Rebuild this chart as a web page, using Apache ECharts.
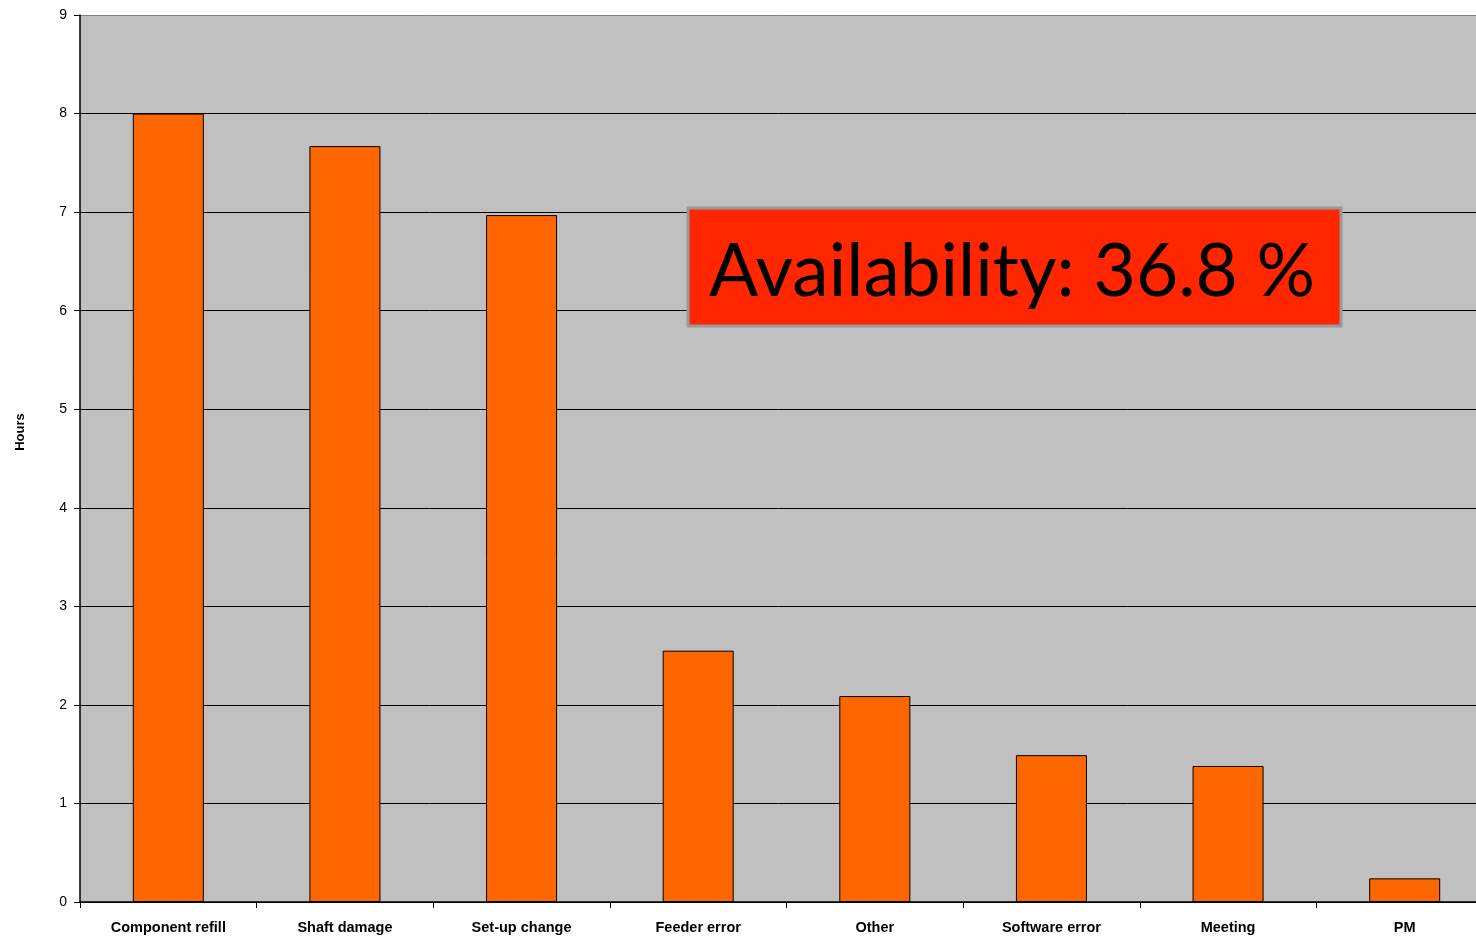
<!DOCTYPE html>
<html>
<head>
<meta charset="utf-8">
<script src="https://cdn.jsdelivr.net/npm/echarts@6/dist/echarts.min.js"></script>
<style>html,body{margin:0;padding:0;background:#fff}#c{width:1476px;height:937px}</style>
</head>
<body>
<div id="c"></div>
<script>
const categories = ['Component refill','Shaft damage','Set-up change','Feeder error','Other','Software error','Meeting','PM'];
const hours = [8.0, 7.67, 6.97, 2.55, 2.09, 1.49, 1.38, 0.24];
const yTicks = [0,1,2,3,4,5,6,7,8,9];
const annotation = 'Availability: 36.8 %';
const yTitle = 'Hours';

const chart = echarts.init(document.getElementById('c'));
chart.setOption({
  animation: false,
  grid: {left: 80, width: 1413, top: 15, bottom: 35, outerBoundsMode: 'none', show: true, backgroundColor: '#C0C0C0', borderWidth: 0},
  xAxis: {
    type: 'category', data: categories,
    axisLine: {lineStyle: {color: '#000', width: 1.5}},
    axisTick: {show: true, length: 6, lineStyle: {color: '#000'}},
    axisLabel: {color: '#000', fontFamily: 'Liberation Sans, Arial', fontWeight: 'bold', fontSize: 14.5, margin: 18, interval: 0}
  },
  yAxis: {
    type: 'value', min: yTicks[0], max: yTicks[yTicks.length-1], interval: 1,
    axisLine: {show: true, lineStyle: {color: '#000', width: 1.5}},
    axisTick: {show: true, length: 6, lineStyle: {color: '#000'}},
    axisLabel: {color: '#000', fontFamily: 'Liberation Sans, Arial', fontSize: 14, margin: 13},
    splitLine: {show: true, lineStyle: {color: ['#000','#000','#000','#000','#000','#000','#000','#000','#000','#808080'], width: 1}}
  },
  series: [{
    type: 'bar', data: hours, barWidth: '40.2%',
    itemStyle: {color: '#FF6600', borderColor: '#000', borderWidth: 1}
  }],
  graphic: [
    {type: 'rect', shape: {x: 688, y: 208, width: 653, height: 118}, style: {fill: '#FF2600', stroke: '#999', lineWidth: 3}, z: 100},
    {type: 'text', x: 1012, y: 272, style: {text: annotation, fill: '#000', font: '73px "Lato", "Open Sans", sans-serif', textAlign: 'center', textVerticalAlign: 'middle'}, z: 101},
    {type: 'text', x: 20, y: 432, rotation: Math.PI / 2, style: {text: yTitle, fill: '#000', font: 'bold 13px "Liberation Sans", Arial', textAlign: 'center', textVerticalAlign: 'middle'}, z: 101}
  ]
});
</script>
</body>
</html>
